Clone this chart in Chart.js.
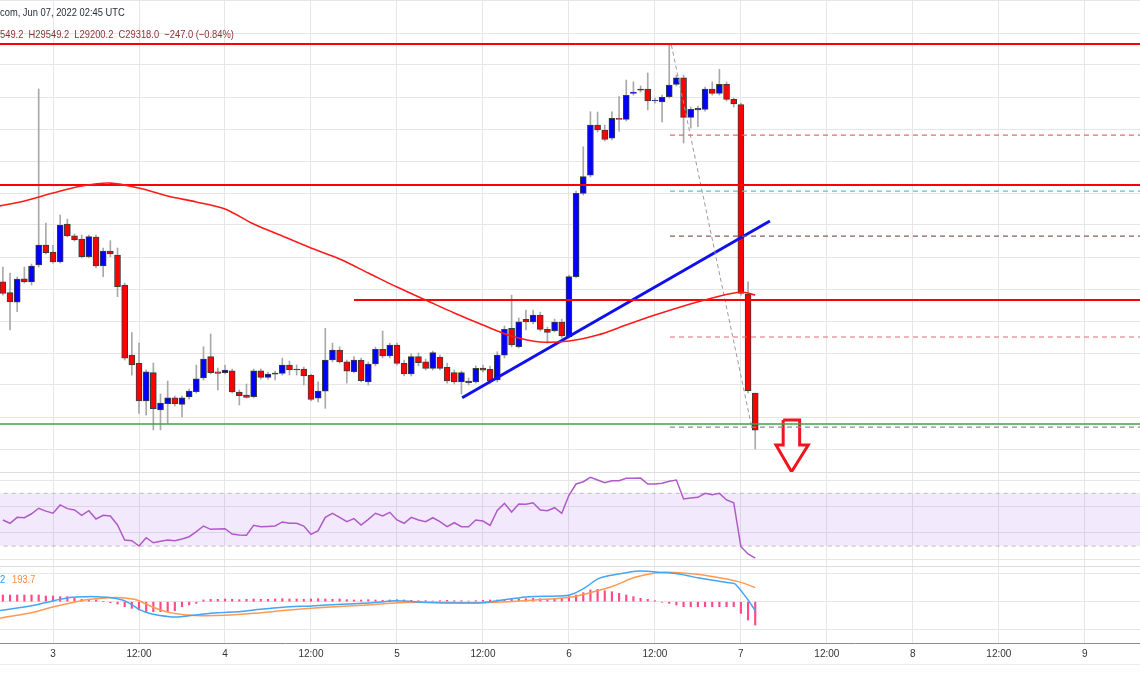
<!DOCTYPE html>
<html lang="en">
<head>
    <meta charset="UTF-8">
    <title>BTC/USD 1H</title>
    <script src="https://cdn.jsdelivr.net/npm/chart.js"></script>
    <style>
        body { margin: 0; background: #fff; font-family: 'Liberation Sans', Arial, sans-serif; }
        #wrap { position: relative; width: 1140px; height: 694px; overflow: hidden; background: #fff; }
        #wrap canvas { position: absolute; left: 0; }
        .txt { position: absolute; left: 0; white-space: pre; font-size: 11px; line-height: 13px; transform: scaleX(0.85); transform-origin: 0 0; }
        .sep { position: absolute; left: 0; width: 1140px; height: 1px; }
    </style>
</head>
<body>
<div id="wrap">
    <canvas id="priceChart" width="1140" height="472" style="top:0"></canvas>
    <canvas id="rsiChart" width="1140" height="95" style="top:472px"></canvas>
    <canvas id="macdChart" width="1140" height="127" style="top:567px"></canvas>
    <div class="sep" style="top:472px;background:#dedede"></div>
    <div class="sep" style="top:566px;background:#dedede"></div>
    <div class="sep" style="top:664px;background:#ececec"></div>
    <div class="txt" style="top:6px;color:#2a2e39">com, Jun 07, 2022 02:45 UTC</div>
    <div class="txt" style="top:28px;color:#8a3535">549.2  H29549.2  L29200.2  C29318.0  −247.0 (−0.84%)</div>
    <div class="txt" style="top:573px"><span style="color:#2196f3">2</span><span style="color:#ff8c42;margin-left:8px">193.7</span></div>
</div>

<script>
    // hours counted from Jun 3 00:00 UTC, one candle per hour
    const hours = [
        -7, -6, -5, -4, -3, -2, -1, 0, 1, 2,
        3, 4, 5, 6, 7, 8, 9, 10, 11, 12,
        13, 14, 15, 16, 17, 18, 19, 20, 21, 22,
        23, 24, 25, 26, 27, 28, 29, 30, 31, 32,
        33, 34, 35, 36, 37, 38, 39, 40, 41, 42,
        43, 44, 45, 46, 47, 48, 49, 50, 51, 52,
        53, 54, 55, 56, 57, 58, 59, 60, 61, 62,
        63, 64, 65, 66, 67, 68, 69, 70, 71, 72,
        73, 74, 75, 76, 77, 78, 79, 80, 81, 82,
        83, 84, 85, 86, 87, 88, 89, 90, 91, 92,
        93, 94, 95, 96, 97, 98
    ];
    const openPrices = [
        30245, 30177, 30117, 30264, 30245, 30350, 30475, 30431, 30370, 30606,
        30533, 30512, 30402, 30525, 30345, 30437, 30412, 30225, 29787, 29735,
        29500, 29677, 29444, 29483, 29520, 29479, 29525, 29558, 29644, 29777,
        29683, 29677, 29689, 29556, 29537, 29527, 29689, 29648, 29667, 29673,
        29725, 29694, 29700, 29660, 29517, 29562, 29756, 29819, 29745, 29683,
        29756, 29620, 29731, 29823, 29781, 29850, 29735, 29669, 29777, 29745,
        29704, 29773, 29710, 29677, 29620, 29614, 29620, 29706, 29698, 29631,
        29787, 29954, 29839, 30010, 29994, 30037, 29948, 29939, 29994, 29902,
        30277, 30798, 30912, 31225, 31194, 31142, 31267, 31260, 31423, 31442,
        31450, 31375, 31370, 31402, 31479, 31520, 31273, 31319, 31323, 31450,
        31423, 31479, 31385, 31352, 30169, 29549.2
    ];
    const highPrices = [
        30337, 30300, 30275, 30337, 30356, 31450, 30612, 30475, 30662, 30637,
        30544, 30537, 30537, 30537, 30456, 30502, 30456, 30237, 29927, 29862,
        29694, 29737, 29544, 29625, 29531, 29531, 29575, 29725, 29839, 29919,
        29706, 29725, 29700, 29569, 29606, 29700, 29700, 29681, 29687, 29768,
        29750, 29725, 29712, 29669, 29620, 29954, 29862, 29839, 29756, 29777,
        29768, 29744, 29837, 29937, 29862, 29862, 29756, 29794, 29800, 29762,
        29812, 29787, 29737, 29694, 29687, 29644, 29719, 29725, 29719, 29808,
        29969, 30162, 30019, 30069, 30069, 30056, 29962, 30012, 30012, 30287,
        30812, 31089, 31308, 31306, 31225, 31308, 31402, 31506, 31495, 31469,
        31550, 31394, 31412, 31725, 31537, 31537, 31337, 31344, 31462, 31495,
        31573, 31494, 31394, 31362, 30245, 29549.2
    ];
    const lowPrices = [
        30162, 29944, 30058, 30237, 30225, 30337, 30419, 30362, 30362, 30525,
        30500, 30394, 30394, 30331, 30277, 30402, 30152, 29756, 29662, 29423,
        29412, 29319, 29319, 29362, 29469, 29400, 29512, 29550, 29631, 29669,
        29569, 29669, 29550, 29475, 29519, 29519, 29637, 29637, 29631, 29662,
        29662, 29662, 29600, 29500, 29494, 29454, 29744, 29737, 29612, 29675,
        29619, 29600, 29719, 29769, 29769, 29725, 29656, 29656, 29719, 29694,
        29694, 29694, 29612, 29606, 29544, 29600, 29612, 29681, 29612, 29619,
        29769, 29837, 29831, 29944, 29981, 29937, 29862, 29931, 29894, 29894,
        30269, 30787, 30900, 31181, 31125, 31131, 31187, 31250, 31412, 31431,
        31319, 31362, 31245, 31394, 31469, 31112, 31206, 31214, 31312, 31412,
        31412, 31375, 31337, 30162, 29550, 29200.2
    ];
    const closePrices = [
        30173, 30120, 30262, 30245, 30344, 30475, 30427, 30370, 30600, 30531,
        30506, 30402, 30527, 30344, 30437, 30419, 30214, 29767, 29725, 29500,
        29683, 29452, 29487, 29520, 29483, 29520, 29562, 29639, 29762, 29677,
        29673, 29694, 29556, 29533, 29523, 29689, 29648, 29669, 29675, 29725,
        29694, 29700, 29656, 29510, 29562, 29756, 29819, 29745, 29687, 29756,
        29627, 29731, 29823, 29781, 29850, 29735, 29669, 29777, 29739, 29704,
        29802, 29704, 29625, 29620, 29677, 29625, 29704, 29692, 29625, 29787,
        29948, 29850, 29995, 29994, 30037, 29948, 29929, 29994, 29906, 30277,
        30798, 30902, 31225, 31194, 31135, 31267, 31260, 31410, 31431, 31450,
        31375, 31381, 31398, 31475, 31520, 31273, 31323, 31329, 31450, 31423,
        31479, 31385, 31356, 30173, 29564, 29318.0
    ];

    const maHours = [-7.5, -4, 0, 4, 8, 12, 16, 20, 24, 28, 32, 36, 40, 44, 48, 52, 56, 60, 64, 68, 72, 76, 80, 84, 88, 92, 96, 98];
    const maValues = [30719, 30750, 30800, 30844, 30862, 30831, 30781, 30744, 30700, 30606, 30531, 30456, 30387, 30300,
        30212, 30131, 30050, 29975, 29906, 29869, 29875, 29912, 29975, 30037, 30094, 30144, 30181, 30162];

    const rsiValues = [
        49.8, 47.3, 51.8, 51.5, 54.5, 58.7, 56.5, 54.9, 61.2, 58.4,
        57.4, 53.3, 56.8, 50.5, 53.3, 52.8, 46.0, 34.6, 34.1, 30.0,
        36.3, 32.5, 33.6, 34.6, 34.1, 35.4, 37.1, 40.9, 45.2, 42.7,
        42.9, 43.2, 39.1, 38.4, 38.2, 45.7, 44.7, 44.9, 45.2, 48.3,
        47.3, 47.3, 45.2, 38.9, 41.7, 51.8, 54.9, 51.8, 48.5, 50.8,
        46.0, 50.3, 54.9, 52.8, 55.6, 49.8, 47.3, 51.8, 49.8, 48.5,
        51.5, 48.5, 44.7, 47.7, 44.7, 44.7, 49.8, 49.0, 45.7, 57.0,
        62.4, 55.8, 61.9, 61.7, 62.9, 57.4, 56.8, 59.1, 54.9, 68.5,
        77.1, 78.8, 82.2, 80.1, 78.1, 79.6, 79.6, 81.4, 81.4, 81.6,
        77.1, 77.1, 77.6, 79.1, 80.1, 65.7, 66.5, 67.0, 70.0, 69.0,
        70.0, 65.0, 62.9, 29.5, 24.0, 20.9
    ];

    const histValues = [
        94, 94, 94, 94, 94, 94, 80, 80, 71, 71,
        47, 33, 24, 24, 0, -14, -33, -71, -94, -118,
        -141, -141, -141, -141, -127, -71, -47, -24, 24, 33,
        33, 38, 33, 28, 33, 38, 33, 33, 38, 42,
        38, 38, 33, 38, 42, 38, 33, 38, 28, 24,
        24, 28, 24, 19, 24, 28, 24, 19, 14, 14,
        9, 14, 19, 14, 14, 9, 14, 19, 24, 24,
        28, 33, 38, 42, 47, 42, 38, 42, 47, 71,
        94, 127, 165, 174, 155, 141, 118, 94, 71, 47,
        33, 14, -9, -24, -47, -71, -71, -71, -71, -71,
        -71, -71, -71, -165, -259, -330
    ];
    const macdHours = [-7.5, -2.4, 0.1, 2.6, 4.7, 5.9, 7.7, 9.7, 10.7, 12, 13.8, 16.3, 17.8, 19.9, 22.9, 25.9, 29, 33, 36.1, 38.1,
        43.1, 46.2, 47.7, 53.3, 59.9, 63.4, 66.4, 70.5, 72.1, 74.1, 76.2, 78.7, 81.8, 84.8, 87.3, 90.4, 94.4, 95.2, 97, 98];
    const macdValues = [-127, -47, 14, 61, 71, 71, 61, 24, -24, -108, -174, -212, -212, -188, -155, -141, -108, -71, -61, -47,
        -24, 0, 14, -14, -14, 33, 71, 80, 94, 188, 330, 386, 433, 414, 391, 330, 268, 250, 24, -127];
    const signalHours = [-7.5, -2.4, 0.1, 2.6, 5.2, 7.7, 9.7, 11.7, 13.8, 16.3, 18.8, 20.9, 23.9, 28, 33, 38.1, 43.1, 48.2, 53.3, 58.3,
        63.4, 68.5, 72.1, 75.2, 78.2, 81.2, 84.3, 86.8, 89.9, 93.4, 96, 98];
    const signalValues = [-236, -141, -71, -14, 33, 57, 57, 24, -71, -155, -188, -198, -193, -165, -118, -80, -52, -14, -9, -14,
        0, 33, 61, 132, 221, 344, 410, 414, 386, 330, 273, 198];

    const gridHours = [0, 12, 24, 36, 48, 60, 72, 84, 96, 108, 120, 132, 144];
    const tickLabels = ['3', '12:00', '4', '12:00', '5', '12:00', '6', '12:00', '7', '12:00', '8', '12:00', '9'];
    const priceGrid = [29200, 29400, 29600, 29800, 30000, 30200, 30400, 30600, 30800, 31000, 31200, 31400, 31600, 31800, 32000];
    const rsiGrid = [20, 40, 60, 80];
    const macdGrid = [-400, 0, 400];

    const resistancePrices = [31731, 30850, 30131];
    const resistanceStarts = [-8, -8, 42];
    const supportPrice = 29356;
    const fibStart = 86.1;
    const fibPrices = [31162, 30812, 30531, 29900, 29337];
    const trendHours = [57.1, 100.05];
    const trendPrices = [29520, 30625];
    const dropHours = [86.3, 97.5];
    const dropPrices = [31725, 29339];
    const arrowHours = [101.9, 104.2, 104.2, 105.4, 103.07, 100.9, 101.9, 101.9];
    const arrowPrices = [29381, 29381, 29225, 29225, 29058, 29225, 29225, 29381];

    const X_MIN = -7.4;
    const X_MAX = 151.7;
    const fibColors = ['#e46a6a', '#5fc4b0', '#8e5a5a', '#e46a6a', '#8c8c8c'];
    const gridColor = '#e6e6e6';

    function xAxis(showLabels) {
        return {
            type: 'linear', min: X_MIN, max: X_MAX, offset: false,
            afterBuildTicks: scale => { scale.ticks = gridHours.map(v => ({ value: v })); },
            grid: { color: gridColor, drawTicks: false, offset: false },
            border: { display: showLabels, color: '#8c8c8c' },
            ticks: {
                display: showLabels, maxRotation: 0, autoSkip: false, padding: 5, color: '#333',
                font: { size: 10, family: "'Liberation Sans', Arial, sans-serif" },
                callback: (v, i) => tickLabels[i]
            }
        };
    }

    function yAxis(min, max, grid) {
        return {
            min: min, max: max,
            afterBuildTicks: scale => { scale.ticks = grid.map(v => ({ value: v })); },
            grid: { color: gridColor, drawTicks: false },
            border: { display: false },
            ticks: { display: false }
        };
    }

    function options(scales, padding) {
        return {
            responsive: false, animation: false, devicePixelRatio: 1, events: [],
            layout: { padding: padding || 0 },
            plugins: { legend: { display: false }, tooltip: { enabled: false } },
            scales: scales
        };
    }

    function lineSet(xs, ys, color, width, dash) {
        return {
            type: 'line', data: xs.map((x, i) => ({ x: x, y: ys[i] })),
            borderColor: color, borderWidth: width, borderDash: dash || [],
            pointRadius: 0, fill: false, tension: 0, order: 0
        };
    }

    function drawPrice() {
        const bodyColors = hours.map((h, i) => closePrices[i] >= openPrices[i] ? '#0000ff' : '#ff0000');
        const datasets = [
            {
                type: 'bar', order: 2, grouped: false, barThickness: 1,
                data: hours.map((h, i) => ({ x: h, y: [lowPrices[i], highPrices[i]] })),
                backgroundColor: '#a9a9a9'
            },
            {
                type: 'bar', order: 1, grouped: false, barThickness: 6,
                data: hours.map((h, i) => ({ x: h, y: [openPrices[i], closePrices[i]] })),
                backgroundColor: bodyColors, borderColor: '#3c3c3c', borderWidth: 1, borderSkipped: false
            }
        ];

        const ma = lineSet(maHours, maValues, '#ff1a1a', 1.6);
        ma.tension = 0.3;
        datasets.push(ma);

        resistancePrices.forEach((p, i) => datasets.push(lineSet([resistanceStarts[i], 153], [p, p], '#ff0000', 2)));
        datasets.push(lineSet([-8, 153], [supportPrice, supportPrice], '#43a047', 1.5));
        fibPrices.forEach((p, i) => datasets.push(lineSet([fibStart, 153], [p, p], fibColors[i], 1.2, [5, 4])));
        datasets.push(lineSet(dropHours, dropPrices, '#9a9a9a', 1, [4, 3]));
        datasets.push(lineSet(trendHours, trendPrices, '#1010ee', 3));

        const arrow = lineSet(arrowHours, arrowPrices, '#f0141e', 3);
        arrow.clip = false;
        arrow.borderJoinStyle = 'miter';
        datasets.push(arrow);

        new Chart(document.getElementById('priceChart'), {
            type: 'bar',
            data: { datasets: datasets },
            options: options({ x: xAxis(false), y: yAxis(29056.25, 32006.25, priceGrid) })
        });
    }

    function drawRsi() {
        const upper = lineSet([-8, 153], [70, 70], '#bdbdbd', 1, [4, 4]);
        upper.fill = '+1';
        upper.backgroundColor = 'rgba(149, 76, 233, 0.12)';
        upper.order = 2;
        const lower = lineSet([-8, 153], [30, 30], '#bdbdbd', 1, [4, 4]);
        lower.order = 1;
        const rsi = lineSet(hours, rsiValues, '#b05ac8', 1.5);

        new Chart(document.getElementById('rsiChart'), {
            type: 'line',
            data: { datasets: [upper, lower, rsi] },
            options: options({ x: xAxis(false), y: yAxis(14.1, 86.2, rsiGrid) })
        });
    }

    function drawMacd() {
        const hist = {
            type: 'bar', order: 2, grouped: false, barThickness: 1.5,
            data: hours.map((h, i) => ({ x: h, y: histValues[i] })),
            backgroundColor: '#ff4a87'
        };
        const macd = lineSet(macdHours, macdValues, '#42a5f5', 1.5);
        macd.tension = 0.3;
        const signal = lineSet(signalHours, signalValues, '#ff9a52', 1.5);
        signal.tension = 0.3;

        new Chart(document.getElementById('macdChart'), {
            type: 'bar',
            data: { datasets: [hist, macd, signal] },
            options: options({ x: xAxis(true), y: yAxis(-584, 490, macdGrid) }, { bottom: 29 })
        });
    }

    drawPrice();
    drawRsi();
    drawMacd();
</script>
</body>
</html>
